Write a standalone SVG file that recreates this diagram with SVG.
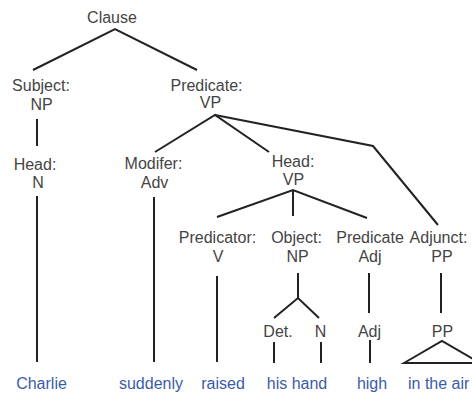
<svg xmlns="http://www.w3.org/2000/svg" width="472" height="397" viewBox="0 0 472 397">
<style>
text{font-family:"Liberation Sans",Arial,sans-serif;font-size:16px;fill:#444;text-anchor:middle}
text.w{fill:#3b5ba8}
.e{stroke:#222;stroke-width:2;fill:none;stroke-linejoin:miter}
</style>
<rect width="472" height="397" fill="#fff"/>
<g id="connectors" class="e">
<path d="M33,70 L115,29 L197,70"/>
<path d="M37,119 V146"/>
<path d="M37,196 V362"/>
<path d="M155,152 L215,115 L269,152"/>
<path d="M215,115 L373,146 L438,225"/>
<path d="M154,197 V362"/>
<path d="M217,217 L293,190 L367,218"/>
<path d="M293,190 V216"/>
<path d="M217,276 V362"/>
<path d="M298,273 V298"/>
<path d="M274,318 L298,298 L319,318"/>
<path d="M274,342 V363"/>
<path d="M321,342 V363"/>
<path d="M369,273 V313"/>
<path d="M370,340 V363"/>
<path d="M441,273 V313"/>
<path d="M404,363 L442,341 L480,363 Z"/>
</g>
<g id="clause"><text x="112" y="23">Clause</text></g>
<g id="subject"><text x="41" y="91">Subject:</text><text x="41.5" y="110">NP</text></g>
<g id="head-n"><text x="35" y="170">Head:</text><text x="38" y="188">N</text></g>
<g id="predicate"><text x="206.5" y="91">Predicate:</text><text x="210.5" y="108">VP</text></g>
<g id="modifier"><text x="153.5" y="169">Modifer:</text><text x="154.5" y="188">Adv</text></g>
<g id="head-vp"><text x="293" y="167">Head:</text><text x="293.5" y="185">VP</text></g>
<g id="predicator"><text x="217.5" y="243">Predicator:</text><text x="218" y="262">V</text></g>
<g id="object"><text x="296.5" y="243">Object:</text><text x="297.5" y="262">NP</text></g>
<g id="pred-adj"><text x="370" y="243">Predicate</text><text x="370" y="262">Adj</text></g>
<g id="adjunct"><text x="438.5" y="243">Adjunct:</text><text x="442" y="262">PP</text></g>
<g id="det"><text x="278" y="337">Det.</text></g>
<g id="n"><text x="320.5" y="337">N</text></g>
<g id="adj"><text x="369.5" y="337">Adj</text></g>
<g id="pp"><text x="442.5" y="337">PP</text></g>
<g id="w-charlie"><text class="w" x="41.5" y="389">Charlie</text></g>
<g id="w-suddenly"><text class="w" x="151" y="389">suddenly</text></g>
<g id="w-raised"><text class="w" x="223" y="389">raised</text></g>
<g id="w-hishand"><text class="w" x="297" y="389">his hand</text></g>
<g id="w-high"><text class="w" x="372" y="389">high</text></g>
<g id="w-intheair"><text class="w" x="408" y="389" style="text-anchor:start">in the air</text></g>
</svg>
